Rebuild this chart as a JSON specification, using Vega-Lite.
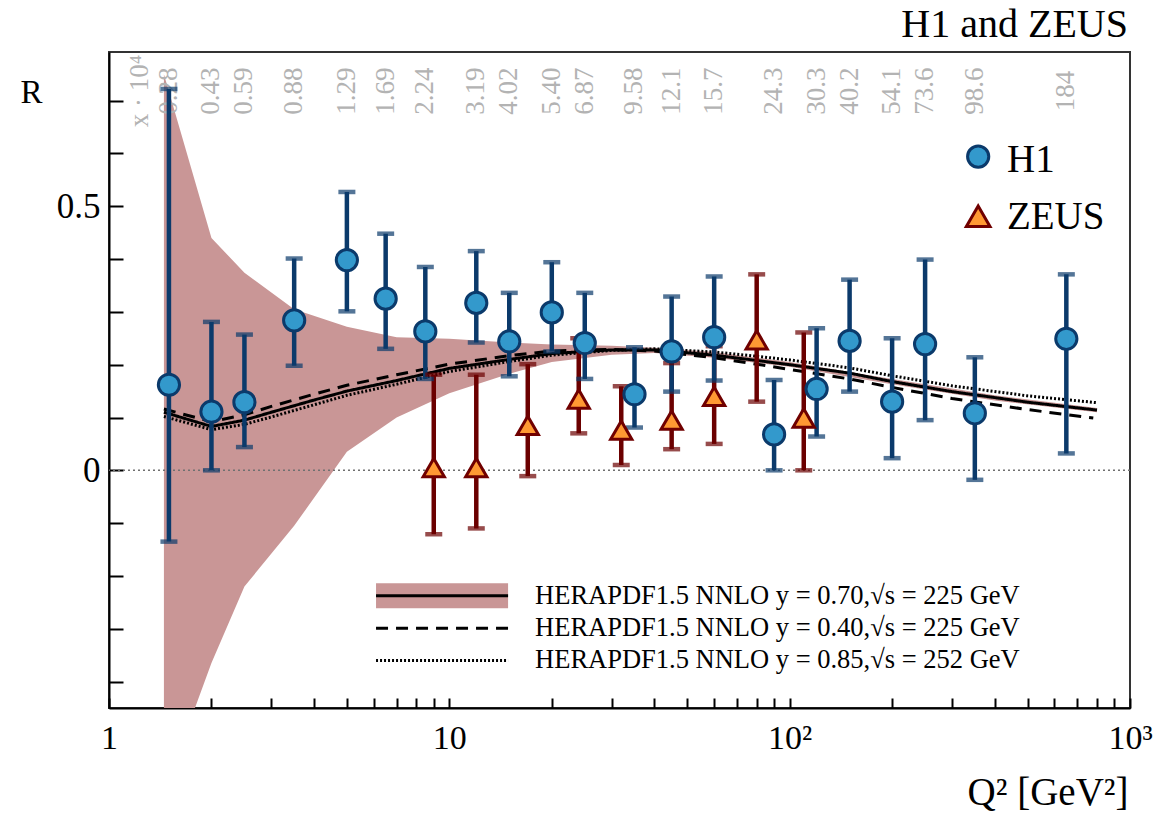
{
  "$schema": "https://vega.github.io/schema/vega-lite/v6.json",
  "width": 1021,
  "height": 656,
  "autosize": "none",
  "padding": {"left": 109, "top": 52, "right": 27, "bottom": 106},
  "background": "white",
  "config": {
    "font": "Liberation Serif",
    "view": {"stroke": "#333", "strokeWidth": 2}
  },
  "datasets": {
    "points": [
      {"exp": "ZEUS", "q2": 9, "r": 0.005, "lo": -0.121, "hi": 0.181},
      {"exp": "ZEUS", "q2": 12, "r": 0.005, "lo": -0.110, "hi": 0.181},
      {"exp": "ZEUS", "q2": 17, "r": 0.085, "lo": -0.011, "hi": 0.201},
      {"exp": "ZEUS", "q2": 24, "r": 0.135, "lo": 0.070, "hi": 0.250},
      {"exp": "ZEUS", "q2": 32, "r": 0.076, "lo": 0.010, "hi": 0.159},
      {"exp": "ZEUS", "q2": 45, "r": 0.095, "lo": 0.040, "hi": 0.203},
      {"exp": "ZEUS", "q2": 60, "r": 0.140, "lo": 0.050, "hi": 0.235},
      {"exp": "ZEUS", "q2": 80, "r": 0.247, "lo": 0.130, "hi": 0.371},
      {"exp": "ZEUS", "q2": 110, "r": 0.099, "lo": 0.0, "hi": 0.261},
      {"exp": "H1", "q2": 1.5, "r": 0.162, "lo": -0.135, "hi": 0.722, "xlabel": "0.28"},
      {"exp": "H1", "q2": 2, "r": 0.111, "lo": 0.0, "hi": 0.281, "xlabel": "0.43"},
      {"exp": "H1", "q2": 2.5, "r": 0.129, "lo": 0.044, "hi": 0.257, "xlabel": "0.59"},
      {"exp": "H1", "q2": 3.5, "r": 0.284, "lo": 0.198, "hi": 0.401, "xlabel": "0.88"},
      {"exp": "H1", "q2": 5, "r": 0.398, "lo": 0.301, "hi": 0.527, "xlabel": "1.29"},
      {"exp": "H1", "q2": 6.5, "r": 0.325, "lo": 0.230, "hi": 0.448, "xlabel": "1.69"},
      {"exp": "H1", "q2": 8.5, "r": 0.263, "lo": 0.173, "hi": 0.385, "xlabel": "2.24"},
      {"exp": "H1", "q2": 12, "r": 0.317, "lo": 0.242, "hi": 0.415, "xlabel": "3.19"},
      {"exp": "H1", "q2": 15, "r": 0.244, "lo": 0.178, "hi": 0.336, "xlabel": "4.02"},
      {"exp": "H1", "q2": 20, "r": 0.299, "lo": 0.225, "hi": 0.394, "xlabel": "5.40"},
      {"exp": "H1", "q2": 25, "r": 0.241, "lo": 0.173, "hi": 0.336, "xlabel": "6.87"},
      {"exp": "H1", "q2": 35, "r": 0.144, "lo": 0.081, "hi": 0.233, "xlabel": "9.58"},
      {"exp": "H1", "q2": 45, "r": 0.225, "lo": 0.149, "hi": 0.329, "xlabel": "12.1"},
      {"exp": "H1", "q2": 60, "r": 0.252, "lo": 0.170, "hi": 0.367, "xlabel": "15.7"},
      {"exp": "H1", "q2": 90, "r": 0.068, "lo": 0.0, "hi": 0.171, "xlabel": "24.3"},
      {"exp": "H1", "q2": 120, "r": 0.154, "lo": 0.064, "hi": 0.269, "xlabel": "30.3"},
      {"exp": "H1", "q2": 150, "r": 0.245, "lo": 0.149, "hi": 0.361, "xlabel": "40.2"},
      {"exp": "H1", "q2": 200, "r": 0.130, "lo": 0.023, "hi": 0.250, "xlabel": "54.1"},
      {"exp": "H1", "q2": 250, "r": 0.239, "lo": 0.095, "hi": 0.399, "xlabel": "73.6"},
      {"exp": "H1", "q2": 350, "r": 0.108, "lo": -0.018, "hi": 0.214, "xlabel": "98.6"},
      {"exp": "H1", "q2": 650, "r": 0.249, "lo": 0.032, "hi": 0.371, "xlabel": "184"}
    ],
    "band": [
      {"q2": 1.45, "lo": -0.61, "hi": 0.75},
      {"q2": 2, "lo": -0.365, "hi": 0.44},
      {"q2": 2.5, "lo": -0.22, "hi": 0.374},
      {"q2": 3.5, "lo": -0.105, "hi": 0.305},
      {"q2": 5, "lo": 0.035, "hi": 0.272},
      {"q2": 7, "lo": 0.10, "hi": 0.252},
      {"q2": 10, "lo": 0.146, "hi": 0.249},
      {"q2": 15, "lo": 0.183, "hi": 0.242},
      {"q2": 20, "lo": 0.205, "hi": 0.238},
      {"q2": 30, "lo": 0.219, "hi": 0.236},
      {"q2": 40, "lo": 0.222, "hi": 0.232},
      {"q2": 60, "lo": 0.213, "hi": 0.224},
      {"q2": 100, "lo": 0.196, "hi": 0.205},
      {"q2": 200, "lo": 0.163, "hi": 0.173},
      {"q2": 400, "lo": 0.132, "hi": 0.142},
      {"q2": 800, "lo": 0.110, "hi": 0.118}
    ],
    "curves": [
      {"model": "y=0.70", "q2": 1.45, "r": 0.110}, {"model": "y=0.70", "q2": 2, "r": 0.083}, {"model": "y=0.70", "q2": 2.5, "r": 0.095}, {"model": "y=0.70", "q2": 3, "r": 0.110}, {"model": "y=0.70", "q2": 4, "r": 0.133}, {"model": "y=0.70", "q2": 5, "r": 0.150}, {"model": "y=0.70", "q2": 7, "r": 0.170}, {"model": "y=0.70", "q2": 10, "r": 0.193}, {"model": "y=0.70", "q2": 15, "r": 0.210}, {"model": "y=0.70", "q2": 20, "r": 0.221}, {"model": "y=0.70", "q2": 30, "r": 0.228}, {"model": "y=0.70", "q2": 40, "r": 0.228}, {"model": "y=0.70", "q2": 60, "r": 0.218}, {"model": "y=0.70", "q2": 80, "r": 0.208}, {"model": "y=0.70", "q2": 100, "r": 0.200}, {"model": "y=0.70", "q2": 150, "r": 0.184}, {"model": "y=0.70", "q2": 200, "r": 0.168}, {"model": "y=0.70", "q2": 300, "r": 0.149}, {"model": "y=0.70", "q2": 500, "r": 0.129}, {"model": "y=0.70", "q2": 800, "r": 0.114},
      {"model": "y=0.40", "q2": 1.45, "r": 0.116}, {"model": "y=0.40", "q2": 2, "r": 0.092}, {"model": "y=0.40", "q2": 2.5, "r": 0.105}, {"model": "y=0.40", "q2": 3, "r": 0.121}, {"model": "y=0.40", "q2": 4, "r": 0.144}, {"model": "y=0.40", "q2": 5, "r": 0.161}, {"model": "y=0.40", "q2": 7, "r": 0.181}, {"model": "y=0.40", "q2": 10, "r": 0.201}, {"model": "y=0.40", "q2": 15, "r": 0.217}, {"model": "y=0.40", "q2": 20, "r": 0.226}, {"model": "y=0.40", "q2": 30, "r": 0.229}, {"model": "y=0.40", "q2": 40, "r": 0.226}, {"model": "y=0.40", "q2": 60, "r": 0.213}, {"model": "y=0.40", "q2": 80, "r": 0.201}, {"model": "y=0.40", "q2": 100, "r": 0.191}, {"model": "y=0.40", "q2": 150, "r": 0.173}, {"model": "y=0.40", "q2": 200, "r": 0.157}, {"model": "y=0.40", "q2": 300, "r": 0.136}, {"model": "y=0.40", "q2": 500, "r": 0.115}, {"model": "y=0.40", "q2": 780, "r": 0.099},
      {"model": "y=0.85", "q2": 1.45, "r": 0.102}, {"model": "y=0.85", "q2": 2, "r": 0.077}, {"model": "y=0.85", "q2": 2.5, "r": 0.087}, {"model": "y=0.85", "q2": 3, "r": 0.101}, {"model": "y=0.85", "q2": 4, "r": 0.124}, {"model": "y=0.85", "q2": 5, "r": 0.142}, {"model": "y=0.85", "q2": 7, "r": 0.163}, {"model": "y=0.85", "q2": 10, "r": 0.187}, {"model": "y=0.85", "q2": 15, "r": 0.206}, {"model": "y=0.85", "q2": 20, "r": 0.218}, {"model": "y=0.85", "q2": 30, "r": 0.227}, {"model": "y=0.85", "q2": 40, "r": 0.230}, {"model": "y=0.85", "q2": 60, "r": 0.224}, {"model": "y=0.85", "q2": 80, "r": 0.216}, {"model": "y=0.85", "q2": 100, "r": 0.209}, {"model": "y=0.85", "q2": 150, "r": 0.194}, {"model": "y=0.85", "q2": 200, "r": 0.179}, {"model": "y=0.85", "q2": 300, "r": 0.160}, {"model": "y=0.85", "q2": 500, "r": 0.141}, {"model": "y=0.85", "q2": 800, "r": 0.128}
    ]
  },
  "layer": [
    {
      "data": {"name": "band"},
      "mark": {"type": "area", "color": "#c99696", "clip": true},
      "encoding": {
        "x": {
          "field": "q2", "type": "quantitative",
          "scale": {"type": "log", "domain": [1, 1000], "nice": false},
          "axis": {
            "title": "Q² [GeV²]", "titleFontSize": 39, "titleFontWeight": "normal", "titleColor": "black",
            "titleX": 1019, "titleY": 96, "titleAlign": "right", "titleBaseline": "alphabetic", "titleAngle": 0,
            "values": [1, 2, 3, 4, 5, 6, 7, 8, 9, 10, 20, 30, 40, 50, 60, 70, 80, 90, 100, 200, 300, 400, 500, 600, 700, 800, 900, 1000],
            "labelExpr": "datum.value == 1 ? '1' : datum.value == 10 ? '10' : datum.value == 100 ? '10²' : datum.value == 1000 ? '10³' : ''",
            "labelFontSize": 34, "labelColor": "black", "labelPadding": 23, "labelFlush": false, "labelOverlap": false, "labelBound": false,
            "tickSize": -10, "tickColor": "black", "tickWidth": 2,
            "domainColor": "black", "domainWidth": 2, "grid": false,
            "encode": {"ticks": {"update": {"y2": {"signal": "(datum.value == 1 || datum.value == 10 || datum.value == 100 || datum.value == 1000) ? -21 : -10"}}}}
          }
        },
        "y": {
          "field": "lo", "type": "quantitative",
          "scale": {"domain": [-0.45, 0.792], "nice": false, "zero": false},
          "axis": {
            "title": "R", "titleFontSize": 33, "titleFontWeight": "normal", "titleColor": "black",
            "titleAngle": 0, "titleX": -89, "titleY": 50, "titleAlign": "left", "titleBaseline": "alphabetic",
            "values": [-0.4, -0.3, -0.2, -0.1, 0, 0.1, 0.2, 0.3, 0.4, 0.5, 0.6, 0.7],
            "labelExpr": "abs(datum.value) < 1e-9 ? '0' : abs(datum.value - 0.5) < 1e-9 ? '0.5' : ''",
            "labelFontSize": 35, "labelColor": "black", "labelPadding": 23, "labelOverlap": false, "labelBound": false, "labelFlush": false,
            "tickSize": -14, "tickColor": "black", "tickWidth": 2,
            "domainColor": "black", "domainWidth": 2, "grid": false,
            "encode": {"ticks": {"update": {"x2": {"signal": "(abs(datum.value) < 1e-9 || abs(datum.value - 0.5) < 1e-9) ? 29 : 14"}}}}
          }
        },
        "y2": {"field": "hi"}
      }
    },
    {
      "data": {"values": [{}]},
      "mark": {"type": "rule", "color": "#707070", "strokeWidth": 1.6, "strokeDash": [2, 3]},
      "encoding": {"y": {"datum": 0, "type": "quantitative"}}
    },
    {
      "data": {"name": "curves"},
      "mark": {"type": "line", "color": "black", "strokeWidth": 3, "clip": true},
      "encoding": {
        "x": {"field": "q2", "type": "quantitative"},
        "y": {"field": "r", "type": "quantitative"},
        "strokeDash": {"field": "model", "type": "nominal", "scale": {"domain": ["y=0.70", "y=0.40", "y=0.85"], "range": [[1, 0], [12, 8], [2, 2]]}, "legend": null}
      }
    },
    {
      "data": {"name": "points"},
      "transform": [{"filter": "datum.exp == 'H1'"}],
      "mark": {"type": "text", "angle": 270, "color": "#b3b3b3", "fontSize": 27, "align": "center", "baseline": "middle"},
      "encoding": {
        "x": {"field": "q2", "type": "quantitative"},
        "y": {"datum": 0.718, "type": "quantitative"},
        "text": {"field": "xlabel"}
      }
    },
    {
      "data": {"values": [{}]},
      "mark": {"type": "text", "angle": 270, "color": "#b3b3b3", "fontSize": 27, "align": "center", "baseline": "middle", "text": "x · 10⁴"},
      "encoding": {
        "x": {"datum": 1.23, "type": "quantitative"},
        "y": {"datum": 0.718, "type": "quantitative"}
      }
    },
    {
      "data": {"name": "points"},
      "mark": {"type": "rule", "strokeWidth": 4.5},
      "encoding": {
        "x": {"field": "q2", "type": "quantitative"},
        "y": {"field": "lo", "type": "quantitative"},
        "y2": {"field": "hi"},
        "color": {"field": "exp", "type": "nominal", "scale": {"domain": ["H1", "ZEUS"], "range": ["#0b3a6b", "#6b0000"]}, "legend": null}
      }
    },
    {
      "data": {"name": "points"},
      "transform": [{"fold": ["lo", "hi"], "as": ["end", "value"]}],
      "mark": {"type": "tick", "orient": "horizontal", "size": 17, "thickness": 4.5},
      "encoding": {
        "x": {"field": "q2", "type": "quantitative"},
        "y": {"field": "value", "type": "quantitative"},
        "color": {"field": "exp", "type": "nominal", "scale": {"domain": ["H1", "ZEUS"], "range": ["#0b3a6b", "#6b0000"]}, "legend": null}
      }
    },
    {
      "data": {"name": "points"},
      "mark": {"type": "point", "filled": true, "size": 450, "strokeWidth": 3, "opacity": 1},
      "encoding": {
        "x": {"field": "q2", "type": "quantitative"},
        "y": {"field": "r", "type": "quantitative"},
        "fill": {"field": "exp", "type": "nominal", "scale": {"domain": ["H1", "ZEUS"], "range": ["#3399cc", "#ff9933"]}, "legend": null},
        "stroke": {"field": "exp", "type": "nominal", "scale": {"domain": ["H1", "ZEUS"], "range": ["#0b3a6b", "#700000"]}, "legend": null},
        "shape": {"field": "exp", "type": "nominal", "scale": {"domain": ["H1", "ZEUS"], "range": ["circle", "triangle-up"]}, "legend": null}
      }
    },
    {
      "data": {"values": [{}]},
      "mark": {"type": "point", "shape": "circle", "filled": true, "size": 450, "fill": "#3399cc", "stroke": "#0b3a6b", "strokeWidth": 3, "opacity": 1},
      "encoding": {"x": {"datum": 358, "type": "quantitative"}, "y": {"datum": 0.594, "type": "quantitative"}}
    },
    {
      "data": {"values": [{}]},
      "mark": {"type": "point", "shape": "triangle-up", "filled": true, "size": 560, "fill": "#ff9933", "stroke": "#700000", "strokeWidth": 3, "opacity": 1},
      "encoding": {"x": {"datum": 358, "type": "quantitative"}, "y": {"datum": 0.481, "type": "quantitative"}}
    },
    {
      "data": {"values": [{}]},
      "mark": {"type": "text", "align": "left", "baseline": "middle", "fontSize": 39, "color": "black", "text": "H1"},
      "encoding": {"x": {"datum": 435, "type": "quantitative"}, "y": {"datum": 0.588, "type": "quantitative"}}
    },
    {
      "data": {"values": [{}]},
      "mark": {"type": "text", "align": "left", "baseline": "middle", "fontSize": 39, "color": "black", "text": "ZEUS"},
      "encoding": {"x": {"datum": 435, "type": "quantitative"}, "y": {"datum": 0.479, "type": "quantitative"}}
    },
    {
      "data": {"values": [{}]},
      "mark": {"type": "text", "align": "right", "baseline": "alphabetic", "fontSize": 40, "color": "black", "dx": -2, "text": "H1 and ZEUS"},
      "encoding": {"x": {"datum": 1000, "type": "quantitative"}, "y": {"datum": 0.8203, "type": "quantitative"}}
    },
    {
      "data": {"values": [{}]},
      "mark": {"type": "rect", "color": "#c99696"},
      "encoding": {
        "x": {"datum": 6.09, "type": "quantitative"}, "x2": {"datum": 14.88},
        "y": {"datum": -0.214, "type": "quantitative"}, "y2": {"datum": -0.261}
      }
    },
    {
      "data": {"values": [{}]},
      "mark": {"type": "rule", "color": "black", "strokeWidth": 3},
      "encoding": {
        "x": {"datum": 6.09, "type": "quantitative"}, "x2": {"datum": 14.88},
        "y": {"datum": -0.2375, "type": "quantitative"}
      }
    },
    {
      "data": {"values": [{}]},
      "mark": {"type": "rule", "color": "black", "strokeWidth": 3, "strokeDash": [12, 8]},
      "encoding": {
        "x": {"datum": 6.09, "type": "quantitative"}, "x2": {"datum": 14.88},
        "y": {"datum": -0.299, "type": "quantitative"}
      }
    },
    {
      "data": {"values": [{}]},
      "mark": {"type": "rule", "color": "black", "strokeWidth": 3, "strokeDash": [2, 2]},
      "encoding": {
        "x": {"datum": 6.09, "type": "quantitative"}, "x2": {"datum": 14.88},
        "y": {"datum": -0.360, "type": "quantitative"}
      }
    },
    {
      "data": {"values": [{}]},
      "mark": {"type": "text", "align": "left", "baseline": "middle", "fontSize": 26.5, "color": "black", "text": "HERAPDF1.5 NNLO y = 0.70,√s = 225 GeV"},
      "encoding": {"x": {"datum": 17.86, "type": "quantitative"}, "y": {"datum": -0.2375, "type": "quantitative"}}
    },
    {
      "data": {"values": [{}]},
      "mark": {"type": "text", "align": "left", "baseline": "middle", "fontSize": 26.5, "color": "black", "text": "HERAPDF1.5 NNLO y = 0.40,√s = 225 GeV"},
      "encoding": {"x": {"datum": 17.86, "type": "quantitative"}, "y": {"datum": -0.299, "type": "quantitative"}}
    },
    {
      "data": {"values": [{}]},
      "mark": {"type": "text", "align": "left", "baseline": "middle", "fontSize": 26.5, "color": "black", "text": "HERAPDF1.5 NNLO y = 0.85,√s = 252 GeV"},
      "encoding": {"x": {"datum": 17.86, "type": "quantitative"}, "y": {"datum": -0.360, "type": "quantitative"}}
    }
  ]
}
